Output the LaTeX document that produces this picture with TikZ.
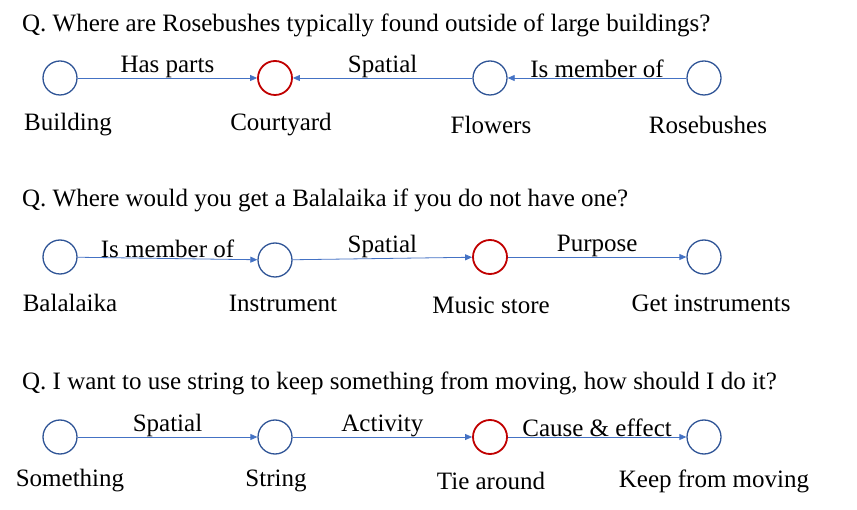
\documentclass[tikz,border=0pt]{standalone}
\usepackage{fontspec}
\setmainfont{Liberation Serif}
\usetikzlibrary{arrows.meta}
\definecolor{cblue}{RGB}{47,84,150}
\definecolor{cred}{RGB}{192,0,0}
\definecolor{ablue}{RGB}{68,114,196}
\begin{document}
\begin{tikzpicture}[x=1pt,y=-1pt,
  nd/.style={circle,draw=cblue,line width=1.3pt,minimum size=34pt,inner sep=0pt},
  ndr/.style={nd,draw=cred,line width=1.8pt},
  lab/.style={font=\fontsize{25}{27}\selectfont,inner sep=0pt},
  qcap/.style={font=\fontsize{25}{27}\selectfont,anchor=west,inner sep=0pt},
  ar/.style={-{Triangle[length=7pt,width=6pt]},draw=ablue,line width=0.8pt},
  el/.style={lab,above=0pt}]
\useasboundingbox (0,0) rectangle (857,510);
% Row 1
\node[qcap] (q1) at (22,25) {Q. Where are Rosebushes typically found outside of large buildings?};
\node[nd] (a1) at (60,78) {};
\node[ndr] (a2) at (275,78) {};
\node[nd] (a3) at (490,78) {};
\node[nd] (a4) at (704,78) {};
\node[lab] (la1) at (68,125) {Building};
\node[lab] (la2) at (281,125) {Courtyard};
\node[lab] (la3) at (491,125) {Flowers};
\node[lab] (la4) at (708,125) {Rosebushes};
\draw[ar] (a1) -- node[el]{Has parts} (a2);
\draw[ar] (a3) -- node[el]{Spatial} (a2);
\draw[ar] (a4) -- node[el]{Is member of} (a3);
% Row 2
\node[qcap] (q2) at (22,200) {Q. Where would you get a Balalaika if you do not have one?};
\node[nd] (b1) at (60,257) {};
\node[nd] (b2) at (275,260) {};
\node[ndr] (b3) at (490,257) {};
\node[nd] (b4) at (704,257) {};
\node[lab] (lb1) at (70,303) {Balalaika};
\node[lab] (lb2) at (283,303) {Instrument};
\node[lab] (lb3) at (491,305) {Music store};
\node[lab] (lb4) at (711,303) {Get instruments};
\draw[ar] (b1) -- node[el]{Is member of} (b2);
\draw[ar] (b2) -- node[el]{Spatial} (b3);
\draw[ar] (b3) -- node[el]{Purpose} (b4);
% Row 3
\node[qcap] (q3) at (22,383) {Q. I want to use string to keep something from moving, how should I do it?};
\node[nd] (c1) at (60,437) {};
\node[nd] (c2) at (275,437) {};
\node[ndr] (c3) at (490,437) {};
\node[nd] (c4) at (704,437) {};
\node[lab] (lc1) at (70,481) {Something};
\node[lab] (lc2) at (276,481) {String};
\node[lab] (lc3) at (491,481) {Tie around};
\node[lab] (lc4) at (714,481) {Keep from moving};
\draw[ar] (c1) -- node[el]{Spatial} (c2);
\draw[ar] (c2) -- node[el]{Activity} (c3);
\draw[ar] (c3) -- node[el]{Cause \& effect} (c4);
\end{tikzpicture}
\end{document}
